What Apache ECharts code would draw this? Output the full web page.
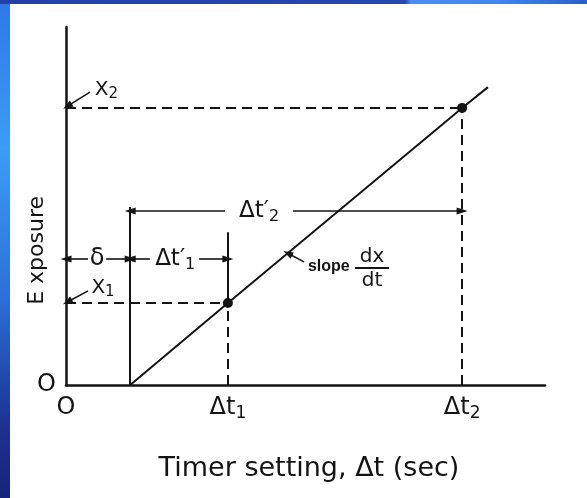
<!DOCTYPE html>
<html>
<head>
<meta charset="utf-8">
<script src="https://cdn.jsdelivr.net/npm/echarts@6/dist/echarts.min.js"></script>
<style>
  html, body { margin: 0; padding: 0; }
  #wrap { position: relative; width: 587px; height: 498px; overflow: hidden;
    background: linear-gradient(180deg, #2f78e6 0%, #3d9cf6 30%, #2c6fd8 60%, #1c3392 85%, #18237a 100%); }
  #topbar { position: absolute; left: 0; top: 0; width: 587px; height: 4px;
    background: linear-gradient(90deg, #2440a8 0%, #2848b0 69%, #4a8ff2 70%, #3f86ee 85%, #2c5fcc 100%); }
  #paper { position: absolute; left: 10px; top: 4px; right: 0; bottom: 0; background: #ffffff; }
  #chart { position: absolute; left: 0; top: 0; width: 587px; height: 498px; }
</style>
</head>
<body>
<div id="wrap"><div id="topbar"></div><div id="paper"></div><div id="chart"></div></div>
<script>
// ---- data (axis units 0..100) ----
const lineX = [13.4, 33.8, 82.7, 88.1];
const lineY = [0, 22.9, 77.4, 83.2];
const pointIdx = [1, 2];                 // marked points: (Δt1, x1), (Δt2, x2)
const xTickValues = [0, 33.8, 82.7];
const xTickBase = ['O', 'Δt', 'Δt'];
const xTickSub = ['', '1', '2'];
const yTickValues = [0];
const yTickLabels = ['O'];
const xName = 'Timer setting, Δt (sec)';
const yName = 'E xposure';

// dashed guide lines [x1, y1, x2, y2]
const dashedX1 = [0, 0, 33.8, 82.7];
const dashedY1 = [22.9, 77.4, 0, 0];
const dashedX2 = [33.8, 82.7, 33.8, 82.7];
const dashedY2 = [22.9, 77.4, 22.9, 77.4];

// solid extension lines
const solidX1 = [13.4, 33.8];
const solidY1 = [0, 22.9];
const solidX2 = [13.4, 33.8];
const solidY2 = [49.7, 42.7];

// dimension arrows (arrow at the first point)
const dimX1 = [0, 13.4, 13.4, 33.8, 13.4, 82.7];
const dimY1 = [35.2, 35.2, 35.2, 35.2, 48.6, 48.6];
const dimX2 = [4.6, 8.4, 17.5, 27.8, 33.2, 47.4];
const dimY2 = [35.2, 35.2, 35.2, 35.2, 48.6, 48.6];

// leader arrows (arrow at the first point)
const leadX1 = [0.3, 0.3, 46.3];
const leadY1 = [77.9, 23.2, 36.8];
const leadX2 = [5.0, 4.6, 49.7];
const leadY2 = [81.8, 26.3, 34.4];

// annotation texts
const noteBase = ['δ', 'Δt′', 'Δt′', 'X', 'X', 'slope'];
const noteSub = ['', '1', '2', '2', '1', ''];
const noteX = [6.5, 22.8, 40.3, 6.0, 5.3, 50.5];
const noteY = [35.2, 35.2, 48.6, 82.4, 27.1, 33.0];
const noteAlign = ['center', 'center', 'center', 'left', 'left', 'left'];
const fracNum = 'dx';
const fracDen = 'dt';
const fracX = 63.9;
const fracY = 32.4;

// ---- build ----
const FONT = 'DejaVu Sans';
const INK = '#141414';

function pairs(x1, y1, x2, y2, s1, s2) {
  return x1.map((v, i) => [
    { coord: [v, y1[i]], symbol: s1 },
    { coord: [x2[i], y2[i]], symbol: s2 }
  ]);
}
function richText(base, sub) {
  return '{m|' + base + '}' + (sub ? '{s|' + sub + '}' : '');
}
function richStyle(size, subSize) {
  const lh = Math.round(size * 1.2);
  return {
    m: { color: INK, fontFamily: FONT, fontSize: size, lineHeight: lh },
    s: { color: INK, fontFamily: FONT, fontSize: subSize, lineHeight: Math.round(subSize * 0.95), verticalAlign: 'bottom' }
  };
}

const chart = echarts.init(document.getElementById('chart'), null, { renderer: 'canvas' });

const labelSizes = [24, 23, 23, 20, 20, 16];
const subSizes = [16, 16, 16, 15, 15, 12];

const option = {
  animation: false,
  backgroundColor: 'transparent',
  grid: { left: 66, top: 27, width: 479, height: 358, containLabel: false },
  xAxis: {
    type: 'value', min: 0, max: 100,
    axisLine: { show: true, lineStyle: { color: INK, width: 2.5 } },
    axisTick: { show: false },
    splitLine: { show: false },
    axisLabel: {
      customValues: xTickValues,
      formatter: (v) => {
        const i = xTickValues.indexOf(v);
        return i < 0 ? '' : richText(xTickBase[i], xTickSub[i]);
      },
      margin: 8,
      rich: richStyle(24, 17)
    },
    name: xName, nameLocation: 'middle', nameGap: 70,
    nameTextStyle: { color: INK, fontFamily: FONT, fontSize: 27, padding: [0, 0, 0, 7] }
  },
  yAxis: {
    type: 'value', min: 0, max: 100,
    axisLine: { show: true, lineStyle: { color: INK, width: 2.5 } },
    axisTick: { show: false },
    splitLine: { show: false },
    axisLabel: {
      customValues: yTickValues,
      formatter: (v) => yTickLabels[yTickValues.indexOf(v)] || '',
      color: INK, fontFamily: FONT, fontSize: 24, margin: 10,
      verticalAlign: 'middle', padding: [0, 0, 5, 0]
    }
  },
  graphic: [{
    type: 'text', left: 26, top: 196, rotation: Math.PI / 2,
    style: { text: yName, fill: INK, font: '22px "DejaVu Sans"' }
  }],
  series: [
    {
      type: 'line',
      data: lineX.map((x, i) => ({
        value: [x, lineY[i]],
        symbol: pointIdx.includes(i) ? 'circle' : 'none'
      })),
      symbolSize: 10,
      showAllSymbol: true,
      itemStyle: { color: INK },
      lineStyle: { color: INK, width: 2 },
      z: 5
    },
    {
      type: 'line', data: [],
      markLine: {
        silent: true, animation: false,
        symbol: ['none', 'none'],
        label: { show: false },
        lineStyle: { color: INK, width: 2, type: [10, 6] },
        data: pairs(dashedX1, dashedY1, dashedX2, dashedY2, 'none', 'none')
      }
    },
    {
      type: 'line', data: [],
      markLine: {
        silent: true, animation: false,
        symbol: ['none', 'none'],
        label: { show: false },
        lineStyle: { color: INK, width: 2, type: 'solid' },
        data: pairs(solidX1, solidY1, solidX2, solidY2, 'none', 'none')
      }
    },
    {
      type: 'line', data: [],
      markLine: {
        silent: true, animation: false,
        symbolSize: [7, 11],
        label: { show: false },
        lineStyle: { color: INK, width: 1.6, type: 'solid' },
        data: pairs(dimX1, dimY1, dimX2, dimY2, 'triangle', 'none')
      }
    },
    {
      type: 'line', data: [],
      markLine: {
        silent: true, animation: false,
        symbolSize: [7, 10],
        label: { show: false },
        lineStyle: { color: INK, width: 1.6, type: 'solid' },
        data: pairs(leadX1, leadY1, leadX2, leadY2, 'triangle', 'none')
      }
    },
    {
      type: 'scatter',
      symbolSize: 0,
      silent: true,
      itemStyle: { opacity: 1 },
      data: noteBase.map((t, i) => {
        const rs = richStyle(labelSizes[i], subSizes[i]);
        if (i === 5) { rs.m.fontFamily = 'Liberation Sans'; rs.m.fontWeight = 'bold'; }
        return {
          value: [noteX[i], noteY[i]],
          label: {
            show: true, position: 'inside', formatter: richText(t, noteSub[i]),
            align: noteAlign[i], verticalAlign: 'middle',
            rich: rs
          }
        };
      }).concat([{
        value: [fracX, fracY],
        label: {
          show: true, position: 'inside',
          formatter: '{n|' + fracNum + '}\n{b| }\n{d|' + fracDen + '}',
          align: 'center', verticalAlign: 'middle',
          rich: {
            n: { color: INK, fontFamily: FONT, fontSize: 20, lineHeight: 20, align: 'center' },
            b: { backgroundColor: INK, width: 34, height: 2, lineHeight: 3, fontSize: 2, align: 'center' },
            d: { color: INK, fontFamily: FONT, fontSize: 20, lineHeight: 22, align: 'center' }
          }
        }
      }])
    }
  ]
};

chart.setOption(option);
</script>
</body>
</html>
